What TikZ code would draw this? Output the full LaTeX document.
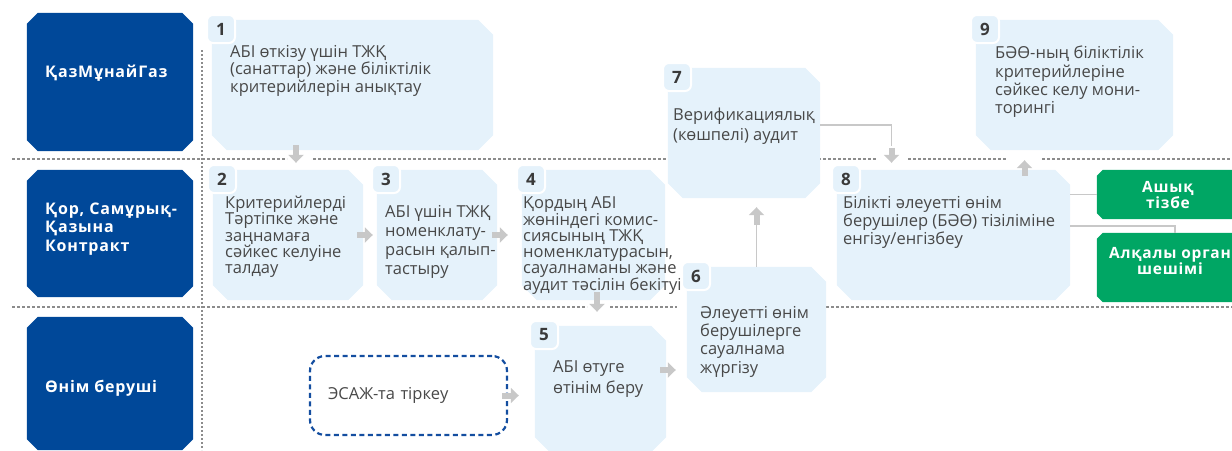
\documentclass[tikz,border=0pt]{standalone}
\usepackage{fontspec}
\setmainfont{Open Sans}
\newfontfamily\jolfont{Open Sans}[LetterSpace=5]
\usetikzlibrary{arrows.meta,calc}

\definecolor{jolkok}{RGB}{0,72,153}
\definecolor{qutykok}{RGB}{229,242,251}
\definecolor{matnsur}{RGB}{72,72,72}
\definecolor{nuskesur}{RGB}{200,200,200}
\definecolor{zhasyl}{RGB}{0,166,100}
\definecolor{shekara}{RGB}{140,140,140}
\definecolor{uzikkok}{RGB}{20,78,160}

\begin{document}
\begin{tikzpicture}[x=1pt, y=-1pt,
  qiyq/.style 2 args={rectangle, inner sep=0pt, append after command={\pgfextra{\fill[#1]
    ($(\tikzlastnode.north west)+(#2,0)$) -- ($(\tikzlastnode.north east)+(-#2,0)$)
    -- ($(\tikzlastnode.north east)+(0,#2)$) -- ($(\tikzlastnode.south east)+(0,-#2)$)
    -- ($(\tikzlastnode.south east)+(-#2,0)$) -- ($(\tikzlastnode.south west)+(#2,0)$)
    -- ($(\tikzlastnode.south west)+(0,-#2)$) -- ($(\tikzlastnode.north west)+(0,#2)$) -- cycle;}}},
  jol/.style={qiyq={jolkok}{11}, minimum width=166pt},
  jolmatn/.style={anchor=west, align=left, inner sep=0pt, text=white,
    font=\jolfont\fontsize{16}{18.5}\selectfont\bfseries},
  quty/.style={qiyq={qutykok}{15}},
  nomer/.style={rounded corners=6pt, fill=qutykok, draw=white, line width=2pt,
    minimum size=28pt, inner sep=0pt, font=\fontsize{17}{17}\selectfont\bfseries, text=matnsur!80!black},
  matn/.style={anchor=north west, align=left, inner sep=0pt, text=matnsur,
    font=\fontsize{16.5}{#1}\selectfont},
  tirkeu/.style={draw=uzikkok, line width=2.2pt, dash pattern=on 5pt off 3.5pt,
    rounded corners=15pt, inner xsep=18pt, align=left, text=matnsur,
    font=\fontsize{16.5}{18}\selectfont},
  zhasylquty/.style={rectangle, inner sep=0pt, minimum width=143pt, append after command={\pgfextra{\fill[zhasyl]
    ($(\tikzlastnode.north west)+(6,0)$) -- (\tikzlastnode.north east) -- (\tikzlastnode.south east)
    -- ($(\tikzlastnode.south west)+(6,0)$) -- ($(\tikzlastnode.south west)+(0,-6)$)
    -- ($(\tikzlastnode.north west)+(0,6)$) -- cycle;}}},
  zhmatn/.style={align=center, inner sep=0pt, text=white, font=\jolfont\fontsize{15.5}{16}\selectfont\bfseries},
  bolu/.style={shekara, line width=1.2pt, dash pattern=on 3pt off 2pt},
  oq/.style={nuskesur, line width=6pt, -{Triangle[length=8pt,width=15pt]}},
  ince/.style={nuskesur, line width=1.3pt}
]
\path[use as bounding box] (0,0) rectangle (1232,450);

% --- bolu syzyqtary ---
\foreach \a/\b in {12/287, 313/877, 908/1007, 1042/1232}
  \draw[bolu] (\a,159) -- (\b,159);
\foreach \a/\b in {12/587, 610/677, 826/1232}
  \draw[bolu] (\a,307) -- (\b,307);
\draw[bolu, dash pattern=on 2pt off 2pt] (202,50) -- (202,450);

% --- jolaqtar ---
\node[jol, minimum height=138pt] (L1) at (110,82) {};
\node[jol, minimum height=127pt] (L2) at (110,233.5) {};
\node[jol, minimum height=133pt] (L3) at (110,383.5) {};
\node[jolmatn] (L1m) at (45,73) {ҚазМұнайГаз};
\node[jolmatn] (L2m) at (45,229) {Қор, Самұрық-\\Қазына\\Контракт};
\node[jolmatn] (L3m) at (45,388) {Өнім беруші};

% --- qadamdar ---
\foreach \n/\cx/\cy/\w/\h in {1/352.5/85/281/130, 2/288/235/150/130, 3/437/235/120/130,
    4/593.5/235/143/130, 5/600.5/389/131/126, 6/756.5/329.5/139/125,
    7/744/133/152/130, 8/953.5/235/233/130, 9/1074.5/85/197/130} {
  \node[quty, minimum width=\w pt, minimum height=\h pt] (b\n) at (\cx,\cy) {};
  \node[nomer] (n\n) at ({\cx-\w/2+9},{\cy-\h/2+9}) {\n};
}

\node[matn=16] (t1) at (230,45) {АБІ өткізу үшін ТЖҚ\\(санаттар) және біліктілік\\критерийлерін анықтау};
\node[matn=16.3] (t2) at (225,196) {Критерийлерді\\Тәртіпке және\\заңнамаға\\сәйкес келуіне\\талдау};
\node[matn=18.9] (t3) at (385,205) {АБІ үшін ТЖҚ\\номенклату-\\расын қалып-\\тастыру};
\node[matn=16] (t4) at (523,196) {Қордың АБІ\\жөніндегі комис-\\сиясының ТЖҚ\\номенклатурасын,\\сауалнаманы және\\аудит тәсілін бекітуі};
\node[matn=21] (t5) at (553,360) {АБІ өтуге\\өтінім беру};
\node[matn=18.3] (t6) at (700,306) {Әлеуетті өнім\\берушілерге\\сауалнама\\жүргізу};
\node[matn=20] (t7) at (673,108) {Верификациялық\\(көшпелі) аудит};
\node[matn=18.3] (t8) at (843,196) {Білікті әлеуетті өнім\\берушілер (БӘӨ) тізіліміне\\енгізу/енгізбеу};
\node[matn=18.3] (t9) at (995,46) {БӘӨ-ның біліктілік\\критерийлеріне\\сәйкес келу мони-\\торингі};

\node[tirkeu, minimum width=197pt, minimum height=79pt, text width=161pt] (E) at (408.5,395.5) {ЭСАЖ-та тіркеу};

% --- natije ---
\node[zhasylquty, minimum height=49pt] (g1) at (1168.5,194.5) {};
\node[zhasylquty, minimum height=69pt] (g2) at (1168.5,267.5) {};
\node[zhmatn] (g1m) at (1168,195) {Ашық\\тізбе};
\node[zhmatn] (g2m) at (1170,261) {Алқалы орган\\шешімі};

% --- bagyttar ---
\draw[oq, shorten <=-5pt, shorten >=7pt] ($(b2.north |- b1.south)+(8,0)$) -- ($(b2.north)+(8,0)$);
\draw[oq, shorten <=-6pt, shorten >=4pt] (b2.east) -- (b3.west);
\draw[oq, shorten <=-5pt, shorten >=14pt] (b3.east) -- (b4.west);
\draw[oq, shorten <=-8pt, shorten >=14pt] ($(b4.south)+(3.5,0)$) -- ($(b4.south |- b5.north)+(3.5,0)$);
\draw[oq, shorten <=-6pt, shorten >=16pt] (E.east) -- (E.east -| b5.west);
\draw[oq, shorten <=-6pt, shorten >=11pt] ($(b5.east)+(0,-19)$) -- ($(b5.east -| b6.west)+(0,-19)$);
\draw[ince] (b6.north) -- ($(b6.north |- b7.south)+(0,25)$);
\draw[oq, shorten >=9pt] ($(b6.north |- b7.south)+(0,27)$) -- (b6.north |- b7.south);
\draw[ince] ($(b7.east)+(0,-8)$) -| ($(b8.north)+(-62,-24)$);
\draw[oq, shorten >=7pt] ($(b8.north)+(-62,-22)$) -- ($(b8.north)+(-62,0)$);
\draw[oq, shorten <=-6pt, shorten >=10pt] ($(b8.north -| b9.south)+(-50,0)$) -- ($(b9.south)+(-50,0)$);
\draw[ince] (g1.west -| b8.east) -- (g1.west);
\draw[ince] ($(b8.east)+(0,-9)$) -| ($(g2.north)+(6.5,0)$);
\end{tikzpicture}
\end{document}
